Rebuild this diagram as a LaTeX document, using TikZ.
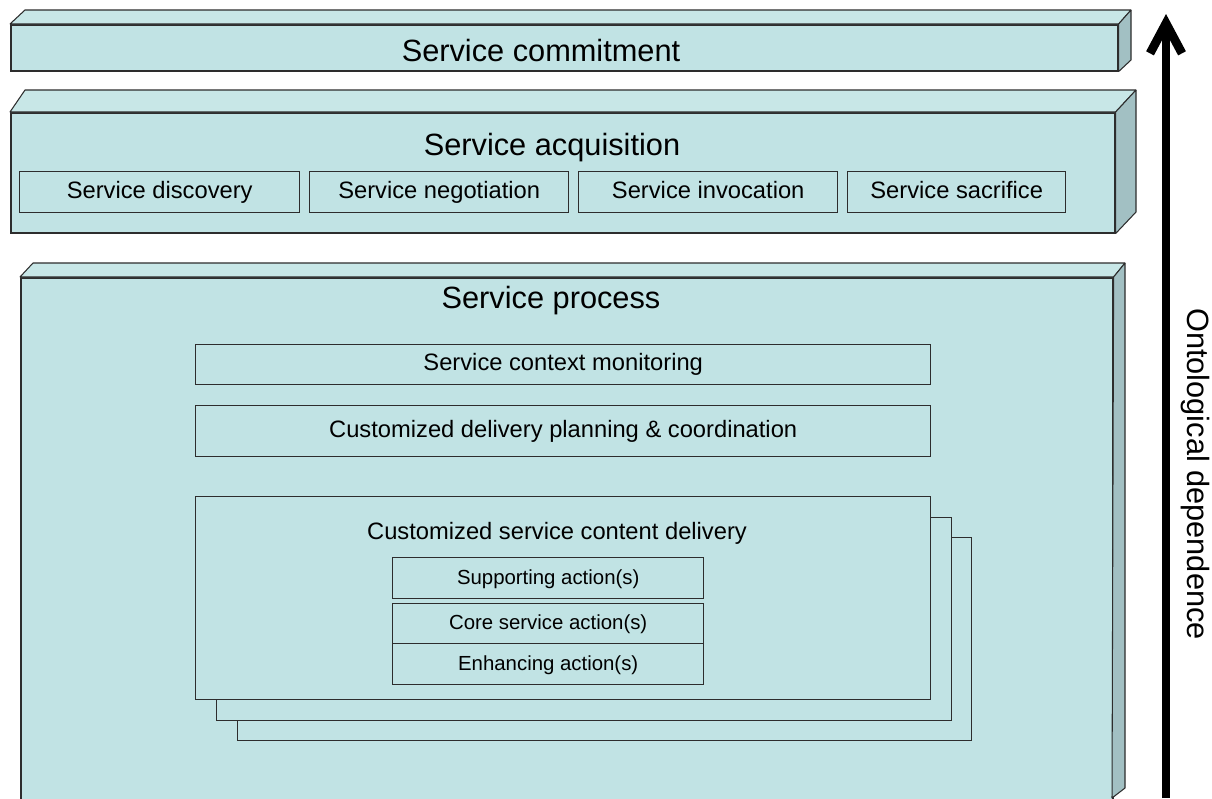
\documentclass[tikz,border=0pt]{standalone}
\usepackage{fontspec}
\setmainfont{Liberation Sans}
\usetikzlibrary{arrows.meta}

\definecolor{slabfront}{RGB}{193,227,228}
\definecolor{slabtop}{RGB}{200,231,231}
\definecolor{slabside}{RGB}{162,192,195}
\definecolor{edge}{RGB}{45,45,45}

\begin{document}
\begin{tikzpicture}[
    x=0.02cm, y=-0.02cm,
    wh/.style 2 args={minimum width=#1*0.02cm, minimum height=#2*0.02cm},
    front/.style={draw=edge, line width=0.9pt, fill=slabfront, inner sep=0pt, anchor=north west},
    topface/.style={draw=edge, line width=0.6pt, fill=slabtop, line join=bevel},
    sideface/.style={draw=edge, line width=0.6pt, fill=slabside, line join=bevel},
    part/.style={draw=edge, line width=0.8pt, fill=slabfront, inner sep=0pt, anchor=north west,
                 text height=1.6ex, text depth=0.3ex, font=\fontsize{13.5}{16}\selectfont},
    act/.style={part, font=\fontsize{11.6}{14}\selectfont},
    title/.style={font=\fontsize{17.5}{21}\selectfont, inner sep=0pt, text height=1.6ex, text depth=0.3ex},
    dep/.style={line width=5pt, -{Straight Barb[length=0.6cm, width=0.64cm]}}
]
\useasboundingbox (0,0) rectangle (1212,798);

% top layer
\node[front, wh={1107}{46}] (commit) at (10,24) {};
\draw[topface] (commit.north west) -- (25,10) -- (1131,10) -- (commit.north east) -- cycle;
\draw[sideface] (commit.north east) -- (1131,10) -- (1131,60) -- (commit.south east) -- cycle;
\node[title] (commitlbl) at (541,55) {Service commitment};

% middle layer
\node[front, wh={1104}{120}] (acq) at (10,112) {};
\draw[topface] (acq.north west) -- (25,90) -- (1136,90) -- (acq.north east) -- cycle;
\draw[sideface] (acq.north east) -- (1136,90) -- (1136,212) -- (acq.south east) -- cycle;
\node[title] (acqlbl) at (552,149) {Service acquisition};

\node[part, wh={280}{41}] (discovery)   at (19,171)  {Service discovery};
\node[part, wh={259}{41}] (negotiation) at (309,171) {Service negotiation};
\node[part, wh={259}{41}] (invocation)  at (578,171) {Service invocation};
\node[part, wh={218}{41}] (sacrifice)   at (847,171) {Service sacrifice};

% bottom layer
\node[front, wh={1092}{540}] (proc) at (20,277) {};
\draw[topface] (proc.north west) -- (33,263) -- (1125,263) -- (proc.north east) -- cycle;
\draw[sideface] (proc.north east) -- (1125,263) -- (1125,788) -- (1112,798) -- cycle;
\node[title] (proclbl) at (551,302) {Service process};

\node[part, wh={735}{40}] (monitor) at (195,344) {Service context monitoring};
\node[part, wh={735}{51}] (planning) at (195,405) {Customized delivery planning \& coordination};

\node[part, wh={734}{203}] (delivery3) at (237,537) {};
\node[part, wh={735}{203}] (delivery2) at (216,517) {};
\node[part, wh={735}{203}] (delivery)  at (195,496) {};
\node[font=\fontsize{13.5}{16}\selectfont, inner sep=0pt, text height=1.6ex, text depth=0.3ex]
    (deliverylbl) at (557,533) {Customized service content delivery};

\node[act, wh={311}{41}] (support)  at (392,557) {Supporting action(s)};
\node[act, wh={311}{40}] (core)     at (392,603) {Core service action(s)};
\node[act, wh={311}{41}] (enhance)  at (392,643) {Enhancing action(s)};

% dependence axis
\coordinate (axisbase) at (1166,798);
\coordinate (axistop) at (1166,14);
\draw[dep] (axisbase) -- (axistop);
\node[title, rotate=-90] (axislbl) at (1194,474) {Ontological dependence};

\end{tikzpicture}
\end{document}
